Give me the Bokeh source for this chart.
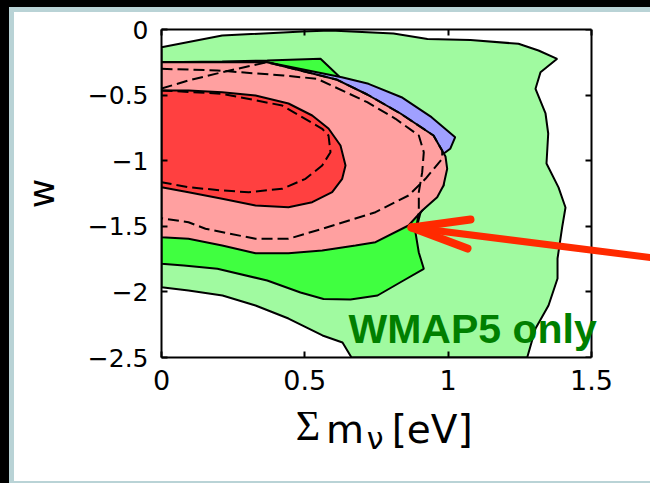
from bokeh.plotting import figure
from bokeh.models import Range1d, LinearAxis, FixedTicker, Label, Arrow
from bokeh.embed import file_html
from bokeh.resources import INLINE

# ---------------- data ----------------
X_TICKS = [0, 0.5, 1, 1.5]
X_TICK_LABELS = ["0", "0.5", "1", "1.5"]
Y_TICKS = [0, -0.5, -1, -1.5, -2, -2.5]
Y_TICK_LABELS = ["0", "\u22120.5", "\u22121", "\u22121.5", "\u22122", "\u22122.5"]
X_MAX, Y_MIN, Y_MAX = 1.5, -2.5, 0.0

# WMAP5 only, 95% region (light green)
wmap95_x = [0, 0.2117, 0.4919, 0.5895, 0.8093, 0.9279, 1.0779, 1.2453, 1.3151, 1.3803,
            1.3221, 1.3047, 1.3396, 1.349, 1.343, 1.3849, 1.4093, 1.3977, 1.3815, 1.3815,
            1.35, 1.3047, 1.2757, 0.6628, 0.6314, 0.5616, 0.443, 0.328, 0.2128, 0.0942, 0]
wmap95_w = [-0.135, -0.046, -0.015, -0.008, -0.031, -0.072, -0.080, -0.109, -0.160, -0.2233,
            -0.3255, -0.452, -0.6402, -0.7927, -1.0213, -1.2035, -1.3567, -1.5069, -1.7454, -1.8979,
            -2.1037, -2.279, -2.5, -2.5, -2.386, -2.332, -2.203, -2.104, -2.027, -1.989, -1.964]

# WMAP5 only, 68% region (bright green)
wmap68_x = [0, 0.2117, 0.3687, 0.5547, 0.6419, 0.764, 0.8686, 0.9209, 0.9105, 0.9035, 0.886,
            0.8976, 0.915, 0.8442, 0.7535, 0.6593, 0.5651, 0.4849, 0.3687, 0.195, 0.0778, 0]
wmap68_w = [-0.2492, -0.2439, -0.2363, -0.2233, -0.404, -0.5412, -0.6936, -0.9223, -1.2271, -1.3948, -1.5473,
            -1.6997, -1.8239, -1.9131, -2.0274, -2.0579, -2.0541, -2.0046, -1.9131, -1.8239, -1.7988, -1.7858]

# second combination, 95% region (blue)
blue95_x = [0, 0.2117, 0.3687, 0.6291, 0.7221, 0.8372, 0.9419, 1.0245, 1.0071, 0.9837,
            0.9837, 0.9035, 0.7465, 0.5547, 0.328, 0.0942, 0]
blue95_w = [-0.2492, -0.2477, -0.2492, -0.3636, -0.4139, -0.516, -0.6684, -0.8209, -0.9093, -0.9474,
            -1.189, -1.3948, -1.593, -1.6616, -1.6768, -1.5701, -1.5549]

# combined, 95% region (pink)
comb95_x = [0, 0.2117, 0.3687, 0.4849, 0.6129, 0.7176, 0.8337, 0.9488, 0.9907, 0.9966, 0.9837,
            0.9617, 0.9094, 0.8616, 0.7465, 0.6767, 0.5606, 0.443, 0.328, 0.2117, 0.0942, 0]
comb95_w = [-0.2492, -0.2477, -0.2492, -0.3125, -0.3834, -0.4954, -0.6402, -0.8079, -0.9680, -1.0617, -1.189,
            -1.2782, -1.3796, -1.4939, -1.6212, -1.6463, -1.6845, -1.705, -1.705, -1.6463, -1.5953, -1.5831]

# combined, 68% region (red)
comb68_x = [0, 0.0942, 0.2117, 0.328, 0.443, 0.5257, 0.5826, 0.6244, 0.6419, 0.6303, 0.5954,
            0.5257, 0.443, 0.328, 0.2117, 0.0942, 0]
comb68_w = [-0.4649, -0.4649, -0.4779, -0.503, -0.564, -0.6555, -0.7546, -0.8841, -1.0366, -1.138, -1.2401,
            -1.3163, -1.3544, -1.3415, -1.2904, -1.2401, -1.202]

# dashed contours
dash68_x = [0, 0.2117, 0.421, 0.5606, 0.5826, 0.5895, 0.5606, 0.5024, 0.421, 0.3045, 0.2117, 0.0942, 0]
dash68_w = [-0.4649, -0.4901, -0.5793, -0.7569, -0.8079, -0.9352, -1.0366, -1.138, -1.2142, -1.2401,
            -1.2271, -1.202, -1.1639]

dashA_x = [0, 0.195, 0.4256, 0.5431, 0.7176, 0.8163, 0.8976, 0.915, 0.9094, 0.8976, 0.8976, 0.886]
dashA_w = [-0.2995, -0.3125, -0.3506, -0.3758, -0.5541, -0.6806, -0.8079, -0.9352, -1.0876, -1.2401,
           -1.3925, -1.5473]

dashB_x = [0, 0.0942, 0.2117, 0.3687, 0.4849, 0.6129, 0.7176, 0.8337, 0.9488, 0.9792, 0.9792,
           0.9209, 0.8616, 0.7465, 0.5606, 0.443, 0.328, 0.1535, 0.0942, 0]
dashB_w = [-0.4497, -0.3887, -0.3255, -0.2492, -0.3125, -0.3834, -0.4954, -0.6402, -0.8079, -0.9223,
           -0.9855, -1.138, -1.2652, -1.3925, -1.5191, -1.5953, -1.5953, -1.5191, -1.4688, -1.4383]

# arrow (tip, tail far right, two arm ends)
arrow_tip = (0.8721, -1.5091)
arrow_tail = (1.8105, -1.7668)
arrow_arm1 = (1.0779, -1.4482)
arrow_arm2 = (1.0674, -1.6692)

# x-axis title pieces: (text, centre in eV)
TITLE_SIGMA = ("\u03a3", 0.5110)
TITLE_MAIN = [("m", 0.6400), ("[eV]", 0.9443)]
TITLE_SUB = ("\u03bd", 0.7450)
Y_TITLE = "w"
NOTE = "WMAP5 only"
NOTE_POS = (0.6523, -2.2790)

# ---------------- figure ----------------
# frame is extended to the right page edge so the arrow and text can overflow the box
p = figure(width=650, height=483, x_range=Range1d(0, 1.7058), y_range=Range1d(Y_MIN, Y_MAX),
           output_backend="svg", toolbar_location=None,
           min_border_left=161, min_border_right=0, min_border_top=29, min_border_bottom=126,
           background_fill_color="white", border_fill_color=None)
p.styles = {"background-color": "white",
            "box-shadow": "inset 9px 7px 0 0 #000000, inset 14px 12px 0 0 #b9d3d6, inset 0 -2px 0 0 #b9d3d6"}
p.grid.visible = False
p.outline_line_color = None

FONT = "DejaVu Sans"


def style_box_axis(ax):
    ax.axis_line_width = 2
    ax.axis_line_color = "black"
    ax.major_tick_line_width = 2
    ax.major_tick_in = 6
    ax.major_tick_out = 0
    ax.minor_tick_line_color = None


xa = p.xaxis[0]
xa.ticker = FixedTicker(ticks=X_TICKS)
xa.major_label_overrides = {t: l for t, l in zip(X_TICKS, X_TICK_LABELS)}
xa.major_label_text_font = FONT
xa.major_label_text_font_size = "27px"
xa.major_label_text_color = "black"
xa.major_label_standoff = 12
xa.bounds = (0, X_MAX)
style_box_axis(xa)

ya = p.yaxis[0]
ya.ticker = FixedTicker(ticks=Y_TICKS)
ya.major_label_overrides = {t: l for t, l in zip(Y_TICKS, Y_TICK_LABELS)}
ya.major_label_text_font = FONT
ya.major_label_text_font_size = "25px"
ya.major_label_text_color = "black"
ya.major_label_standoff = 13
ya.axis_label = Y_TITLE
ya.axis_label_text_font = FONT
ya.axis_label_text_font_size = "36px"
ya.axis_label_text_font_style = "normal"
ya.axis_label_text_color = "black"
ya.axis_label_standoff = 23
style_box_axis(ya)

top = LinearAxis(ticker=FixedTicker(ticks=X_TICKS), bounds=(0, X_MAX),
                 major_label_overrides={t: "" for t in X_TICKS}, major_label_standoff=0)
style_box_axis(top)
p.add_layout(top, "above")

right = LinearAxis(ticker=FixedTicker(ticks=Y_TICKS), fixed_location=X_MAX,
                   major_label_overrides={t: "" for t in Y_TICKS}, major_label_standoff=0)
style_box_axis(right)
p.add_layout(right, "right")


def title_axis(pieces, font, size, standoff):
    ticks = [c for _, c in pieces]
    ax = LinearAxis(ticker=FixedTicker(ticks=ticks),
                    major_label_overrides={c: t for t, c in pieces},
                    major_label_text_font=font, major_label_text_font_size=size,
                    major_label_text_color="black", major_label_standoff=standoff,
                    axis_line_color=None, major_tick_line_color=None, minor_tick_line_color=None,
                    major_tick_in=0, major_tick_out=0)
    p.add_layout(ax, "below")


title_axis([TITLE_SIGMA], "Liberation Serif", "42px", 10)
title_axis(TITLE_MAIN, FONT, "39px", -45)
title_axis([TITLE_SUB], FONT, "30px", -34)

# filled contours
p.patch(wmap95_x, wmap95_w, fill_color="#a0faa0", line_color="black", line_width=2)
p.patch(wmap68_x, wmap68_w, fill_color="#40ff40", line_color="black", line_width=2)
p.patch(blue95_x, blue95_w, fill_color="#a0a0ff", line_color="black", line_width=2)
p.patch(comb95_x, comb95_w, fill_color="#ffa0a0", line_color="black", line_width=2)
p.patch(comb68_x, comb68_w, fill_color="#ff4040", line_color="black", line_width=2)

for xs, ws in ((dashA_x, dashA_w), (dashB_x, dashB_w), (dash68_x, dash68_w)):
    p.line(xs, ws, line_color="black", line_width=2, line_dash="11 5")

# red arrow
ARROW_RED = "#ff2a00"
p.add_layout(Arrow(end=None, x_start=arrow_tip[0], y_start=arrow_tip[1],
                   x_end=arrow_tail[0], y_end=arrow_tail[1],
                   line_color=ARROW_RED, line_width=7, line_cap="round"))
p.multi_line([[arrow_arm1[0], arrow_tip[0]], [arrow_arm2[0], arrow_tip[0]]],
             [[arrow_arm1[1], arrow_tip[1]], [arrow_arm2[1], arrow_tip[1]]],
             line_color=ARROW_RED, line_width=8, line_cap="round", line_join="round")

# annotation text
p.add_layout(Label(x=NOTE_POS[0], y=NOTE_POS[1], text=NOTE, text_font="Liberation Sans",
                   text_font_style="bold", text_font_size="41px", text_color="#007f00",
                   text_baseline="alphabetic", text_align="left"))

open("out.html", "w").write(file_html(p, INLINE))
